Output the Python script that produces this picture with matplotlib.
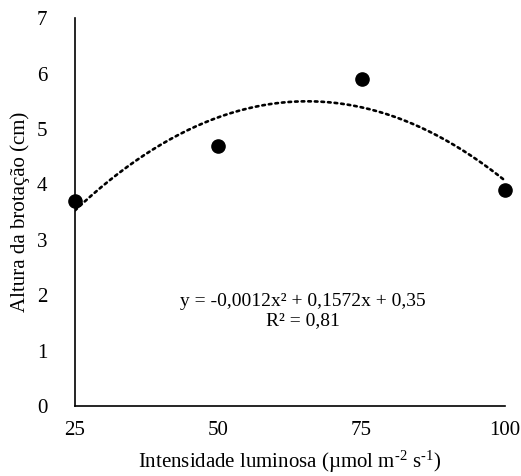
import matplotlib
matplotlib.use('Agg')
import matplotlib.pyplot as plt
import numpy as np

plt.rcParams['font.family'] = ['Liberation Serif', 'DejaVu Serif']
plt.rcParams['mathtext.fontset'] = 'custom'
plt.rcParams['mathtext.rm'] = 'Liberation Serif'
plt.rcParams['mathtext.it'] = 'Liberation Serif:italic'

# data
intensidade = [25, 50, 75, 100]
altura = [3.7, 4.7, 5.9, 3.9]
# trend line coefficients as printed on the chart (a, b, c)
coef = [-0.0012, 0.1572, 0.35]
r2_text = "R² = 0,81"
eq_text = "y = -0,0012x² + 0,1572x + 0,35"

fig = plt.figure(figsize=(5.21, 4.76), dpi=100)
ax = fig.add_axes([0.144, 0.147, 0.825, 0.815])

xs = np.linspace(intensidade[0], intensidade[-1], 200)
ax.plot(xs, np.polyval(coef, xs), color='black', linestyle=(0, (1, 1.5)),
        linewidth=1.9, dash_capstyle='round')
ax.plot(intensidade, altura, 'o', color='black', markersize=9.5, clip_on=False, zorder=5)

ax.set_xlim(25, 100)
ax.set_ylim(0, 7)
ax.set_xticks(intensidade)
ax.set_yticks(range(0, 8))
ax.tick_params(length=0, labelsize=15)
ax.tick_params(axis='x', pad=11)
ax.tick_params(axis='y', pad=20)
for s in ['top', 'right']:
    ax.spines[s].set_visible(False)
for s in ['left', 'bottom']:
    ax.spines[s].set_linewidth(1.2)

ax.set_xlabel("Intensidade luminosa (µmol m$^{\u20102}$ s$^{\u20101}$)", fontsize=15, labelpad=6)
ax.set_ylabel("Altura da brotação (cm)", fontsize=15, labelpad=5)

ax.text(0.53, 0.245, eq_text + "\n" + r2_text, transform=ax.transAxes,
        ha='center', va='center', fontsize=14, linespacing=1.1)

fig.savefig("out.png", dpi=100)
